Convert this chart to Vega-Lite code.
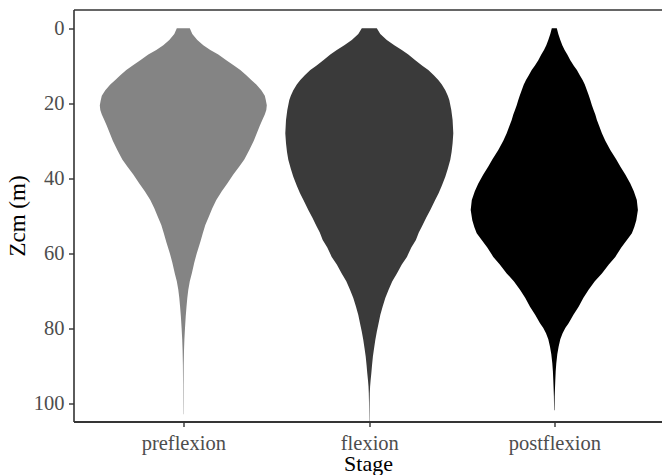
{
  "$schema": "https://vega.github.io/schema/vega-lite/v6.json",
  "width": 589,
  "height": 412,
  "autosize": {"type": "none"},
  "padding": {"left": 73.5, "top": 9.5, "right": 0, "bottom": 53.5},
  "background": "white",
  "config": {"view": {"stroke": null}, "font": "Liberation Serif"},
  "datasets": {
    "violin": [
      {"stage": "preflexion", "z": 0, "density": 13},
      {"stage": "preflexion", "z": 1.5, "density": 18},
      {"stage": "preflexion", "z": 3.1, "density": 28},
      {"stage": "preflexion", "z": 4.5, "density": 40},
      {"stage": "preflexion", "z": 5.8, "density": 54},
      {"stage": "preflexion", "z": 7, "density": 70},
      {"stage": "preflexion", "z": 8.5, "density": 86},
      {"stage": "preflexion", "z": 10, "density": 102},
      {"stage": "preflexion", "z": 11.1, "density": 114},
      {"stage": "preflexion", "z": 12.5, "density": 126},
      {"stage": "preflexion", "z": 13.8, "density": 136},
      {"stage": "preflexion", "z": 15, "density": 146},
      {"stage": "preflexion", "z": 16.5, "density": 156},
      {"stage": "preflexion", "z": 18, "density": 163},
      {"stage": "preflexion", "z": 19.1, "density": 165},
      {"stage": "preflexion", "z": 20.5, "density": 167},
      {"stage": "preflexion", "z": 21.8, "density": 166},
      {"stage": "preflexion", "z": 23, "density": 163},
      {"stage": "preflexion", "z": 24.5, "density": 158},
      {"stage": "preflexion", "z": 26, "density": 153},
      {"stage": "preflexion", "z": 28, "density": 147},
      {"stage": "preflexion", "z": 30, "density": 141},
      {"stage": "preflexion", "z": 32.5, "density": 132},
      {"stage": "preflexion", "z": 35, "density": 122},
      {"stage": "preflexion", "z": 36.9, "density": 112},
      {"stage": "preflexion", "z": 39, "density": 100},
      {"stage": "preflexion", "z": 41.4, "density": 88},
      {"stage": "preflexion", "z": 43.5, "density": 77},
      {"stage": "preflexion", "z": 45.8, "density": 66},
      {"stage": "preflexion", "z": 48, "density": 58},
      {"stage": "preflexion", "z": 50.3, "density": 51},
      {"stage": "preflexion", "z": 52.5, "density": 44},
      {"stage": "preflexion", "z": 54.7, "density": 39},
      {"stage": "preflexion", "z": 57, "density": 34},
      {"stage": "preflexion", "z": 60, "density": 27},
      {"stage": "preflexion", "z": 62.5, "density": 22},
      {"stage": "preflexion", "z": 65.4, "density": 17},
      {"stage": "preflexion", "z": 67.5, "density": 13},
      {"stage": "preflexion", "z": 69.8, "density": 10},
      {"stage": "preflexion", "z": 72, "density": 8},
      {"stage": "preflexion", "z": 74.3, "density": 6.4},
      {"stage": "preflexion", "z": 77, "density": 4.8},
      {"stage": "preflexion", "z": 80, "density": 3.4},
      {"stage": "preflexion", "z": 83, "density": 2.2},
      {"stage": "preflexion", "z": 86, "density": 1.4},
      {"stage": "preflexion", "z": 90, "density": 0.8},
      {"stage": "preflexion", "z": 95, "density": 0.5},
      {"stage": "preflexion", "z": 100, "density": 0.4},
      {"stage": "preflexion", "z": 103, "density": 0.3},
      {"stage": "flexion", "z": 0, "density": 15},
      {"stage": "flexion", "z": 1.5, "density": 22},
      {"stage": "flexion", "z": 3.1, "density": 35},
      {"stage": "flexion", "z": 4.5, "density": 50},
      {"stage": "flexion", "z": 5.8, "density": 65},
      {"stage": "flexion", "z": 7, "density": 78},
      {"stage": "flexion", "z": 8.5, "density": 92},
      {"stage": "flexion", "z": 10, "density": 106},
      {"stage": "flexion", "z": 11.1, "density": 118},
      {"stage": "flexion", "z": 12.5, "density": 129},
      {"stage": "flexion", "z": 13.8, "density": 138},
      {"stage": "flexion", "z": 15, "density": 145},
      {"stage": "flexion", "z": 16.5, "density": 152},
      {"stage": "flexion", "z": 18, "density": 157},
      {"stage": "flexion", "z": 19.1, "density": 160},
      {"stage": "flexion", "z": 21.8, "density": 164},
      {"stage": "flexion", "z": 24.5, "density": 166.6},
      {"stage": "flexion", "z": 28, "density": 168},
      {"stage": "flexion", "z": 30.7, "density": 166.6},
      {"stage": "flexion", "z": 33, "density": 164.6},
      {"stage": "flexion", "z": 35.1, "density": 162},
      {"stage": "flexion", "z": 37.5, "density": 157},
      {"stage": "flexion", "z": 39.6, "density": 152},
      {"stage": "flexion", "z": 42, "density": 145},
      {"stage": "flexion", "z": 44, "density": 138.6},
      {"stage": "flexion", "z": 46, "density": 131},
      {"stage": "flexion", "z": 48.5, "density": 122},
      {"stage": "flexion", "z": 50.5, "density": 114},
      {"stage": "flexion", "z": 52.9, "density": 105.2},
      {"stage": "flexion", "z": 54.5, "density": 99},
      {"stage": "flexion", "z": 56.5, "density": 93.2},
      {"stage": "flexion", "z": 58.5, "density": 84},
      {"stage": "flexion", "z": 61, "density": 75.2},
      {"stage": "flexion", "z": 63, "density": 65},
      {"stage": "flexion", "z": 65.4, "density": 55.2},
      {"stage": "flexion", "z": 67.5, "density": 46},
      {"stage": "flexion", "z": 69.8, "density": 38.6},
      {"stage": "flexion", "z": 72, "density": 32},
      {"stage": "flexion", "z": 74.3, "density": 26.6},
      {"stage": "flexion", "z": 76.5, "density": 22},
      {"stage": "flexion", "z": 78.7, "density": 18.6},
      {"stage": "flexion", "z": 81, "density": 15},
      {"stage": "flexion", "z": 83.2, "density": 12},
      {"stage": "flexion", "z": 85.5, "density": 9.4},
      {"stage": "flexion", "z": 87.6, "density": 7.2},
      {"stage": "flexion", "z": 90, "density": 5.4},
      {"stage": "flexion", "z": 92.1, "density": 4},
      {"stage": "flexion", "z": 94, "density": 2.6},
      {"stage": "flexion", "z": 95.6, "density": 1.6},
      {"stage": "flexion", "z": 97.4, "density": 1},
      {"stage": "flexion", "z": 100, "density": 0.6},
      {"stage": "flexion", "z": 103, "density": 0.4},
      {"stage": "flexion", "z": 104.9, "density": 0.3},
      {"stage": "postflexion", "z": 0, "density": 5},
      {"stage": "postflexion", "z": 1.5, "density": 8},
      {"stage": "postflexion", "z": 3.1, "density": 12},
      {"stage": "postflexion", "z": 4.5, "density": 16},
      {"stage": "postflexion", "z": 5.8, "density": 20.6},
      {"stage": "postflexion", "z": 7, "density": 26},
      {"stage": "postflexion", "z": 8.5, "density": 32},
      {"stage": "postflexion", "z": 10, "density": 39},
      {"stage": "postflexion", "z": 11.1, "density": 45.2},
      {"stage": "postflexion", "z": 12.5, "density": 51},
      {"stage": "postflexion", "z": 13.8, "density": 56.6},
      {"stage": "postflexion", "z": 15, "density": 61},
      {"stage": "postflexion", "z": 16.5, "density": 65.2},
      {"stage": "postflexion", "z": 18, "density": 69.2},
      {"stage": "postflexion", "z": 19.1, "density": 72},
      {"stage": "postflexion", "z": 20.5, "density": 75.2},
      {"stage": "postflexion", "z": 21.8, "density": 78.6},
      {"stage": "postflexion", "z": 23, "density": 82},
      {"stage": "postflexion", "z": 24.5, "density": 85.2},
      {"stage": "postflexion", "z": 26, "density": 89.6},
      {"stage": "postflexion", "z": 28, "density": 95.2},
      {"stage": "postflexion", "z": 30, "density": 102},
      {"stage": "postflexion", "z": 32.5, "density": 112},
      {"stage": "postflexion", "z": 35, "density": 124},
      {"stage": "postflexion", "z": 36.9, "density": 132},
      {"stage": "postflexion", "z": 39, "density": 142},
      {"stage": "postflexion", "z": 41.4, "density": 152},
      {"stage": "postflexion", "z": 43.5, "density": 159},
      {"stage": "postflexion", "z": 45.8, "density": 165},
      {"stage": "postflexion", "z": 48.5, "density": 167.2},
      {"stage": "postflexion", "z": 51.2, "density": 164},
      {"stage": "postflexion", "z": 53, "density": 160},
      {"stage": "postflexion", "z": 54.7, "density": 155.2},
      {"stage": "postflexion", "z": 56.5, "density": 145.2},
      {"stage": "postflexion", "z": 58.5, "density": 134},
      {"stage": "postflexion", "z": 61, "density": 122},
      {"stage": "postflexion", "z": 63, "density": 109},
      {"stage": "postflexion", "z": 65.4, "density": 95.2},
      {"stage": "postflexion", "z": 67.5, "density": 81},
      {"stage": "postflexion", "z": 69.8, "density": 68.6},
      {"stage": "postflexion", "z": 72, "density": 58},
      {"stage": "postflexion", "z": 74.3, "density": 48.6},
      {"stage": "postflexion", "z": 76.5, "density": 38},
      {"stage": "postflexion", "z": 78.7, "density": 28.6},
      {"stage": "postflexion", "z": 80, "density": 22},
      {"stage": "postflexion", "z": 81.4, "density": 16.6},
      {"stage": "postflexion", "z": 83, "density": 12},
      {"stage": "postflexion", "z": 85, "density": 8.6},
      {"stage": "postflexion", "z": 87, "density": 6},
      {"stage": "postflexion", "z": 89.4, "density": 4},
      {"stage": "postflexion", "z": 91.5, "density": 2.8},
      {"stage": "postflexion", "z": 93.9, "density": 2},
      {"stage": "postflexion", "z": 96, "density": 1.4},
      {"stage": "postflexion", "z": 98.3, "density": 0.8},
      {"stage": "postflexion", "z": 100, "density": 0.6},
      {"stage": "postflexion", "z": 101.9, "density": 0.4}
    ]
  },
  "data": {"name": "violin"},
  "encoding": {
    "y": {
      "field": "z", "type": "quantitative", "title": "Zcm (m)",
      "scale": {"domain": [-5.02, 104.93], "reverse": true, "nice": false, "zero": false},
      "axis": {
        "orient": "left", "title": "Zcm (m)", "values": [-5.02, 0, 20, 40, 60, 80, 100],
        "labelExpr": "datum.value < -1 ? '' : datum.label",
        "grid": true, "gridColor": "#333333", "gridWidth": 1.6,
        "gridOpacity": {"condition": {"test": "datum.value < -1", "value": 1}, "value": 0},
        "domain": true, "domainColor": "#333333", "domainWidth": 1.6,
        "tickSize": 5, "tickColor": "#333333", "tickWidth": 1.4,
        "tickOpacity": {"condition": {"test": "datum.value < -1", "value": 0}, "value": 1},
        "labelFont": "Liberation Serif", "labelFontSize": 20.5, "labelColor": "#4d4d4d",
        "labelPadding": 4.5,
        "titleFont": "Liberation Serif", "titleFontSize": 23, "titleFontWeight": "normal",
        "titleColor": "#000000", "titlePadding": 3.5
      }
    },
    "color": {
      "field": "stage", "type": "nominal",
      "scale": {"domain": ["preflexion", "flexion", "postflexion"], "range": ["#848484", "#3a3a3a", "#000000"]},
      "legend": null
    }
  },
  "layer": [
    {
      "transform": [{"filter": {"field": "stage", "equal": "preflexion"}}],
      "mark": {"type": "area", "orient": "horizontal"},
      "encoding": {
        "x": {
          "field": "density", "type": "quantitative", "stack": "center",
          "scale": {"domain": [-26.3, 562.7], "nice": false, "zero": false},
          "axis": {
            "orient": "bottom", "title": null, "values": [83.5], "labelExpr": "'preflexion'",
            "grid": false, "domain": true, "domainColor": "#333333", "domainWidth": 1.6,
            "tickSize": 5, "tickColor": "#333333", "tickWidth": 1.4,
            "labelFont": "Liberation Serif", "labelFontSize": 20.5, "labelColor": "#4d4d4d",
            "labelPadding": 7, "labelFlush": false
          }
        }
      }
    },
    {
      "transform": [{"filter": {"field": "stage", "equal": "flexion"}}],
      "mark": {"type": "area", "orient": "horizontal"},
      "encoding": {
        "x": {
          "field": "density", "type": "quantitative", "stack": "center",
          "scale": {"domain": [-211.8, 377.2], "nice": false, "zero": false},
          "axis": {
            "orient": "bottom", "title": "Stage", "values": [84], "labelExpr": "'flexion'",
            "grid": false, "domain": true, "domainColor": "#333333", "domainWidth": 1.6,
            "tickSize": 5, "tickColor": "#333333", "tickWidth": 1.4,
            "labelFont": "Liberation Serif", "labelFontSize": 20.5, "labelColor": "#4d4d4d",
            "labelPadding": 7, "labelFlush": false,
            "titleFont": "Liberation Serif", "titleFontSize": 22, "titleFontWeight": "normal",
            "titleColor": "#000000", "titlePadding": -0.5
          }
        }
      }
    },
    {
      "transform": [{"filter": {"field": "stage", "equal": "postflexion"}}],
      "mark": {"type": "area", "orient": "horizontal"},
      "encoding": {
        "x": {
          "field": "density", "type": "quantitative", "stack": "center",
          "scale": {"domain": [-397.2, 191.8], "nice": false, "zero": false},
          "axis": {
            "orient": "bottom", "title": null, "values": [83.6], "labelExpr": "'postflexion'",
            "grid": false, "domain": true, "domainColor": "#333333", "domainWidth": 1.6,
            "tickSize": 5, "tickColor": "#333333", "tickWidth": 1.4,
            "labelFont": "Liberation Serif", "labelFontSize": 20.5, "labelColor": "#4d4d4d",
            "labelPadding": 7, "labelFlush": false
          }
        }
      }
    }
  ],
  "resolve": {"scale": {"x": "independent"}, "axis": {"x": "independent"}}
}
